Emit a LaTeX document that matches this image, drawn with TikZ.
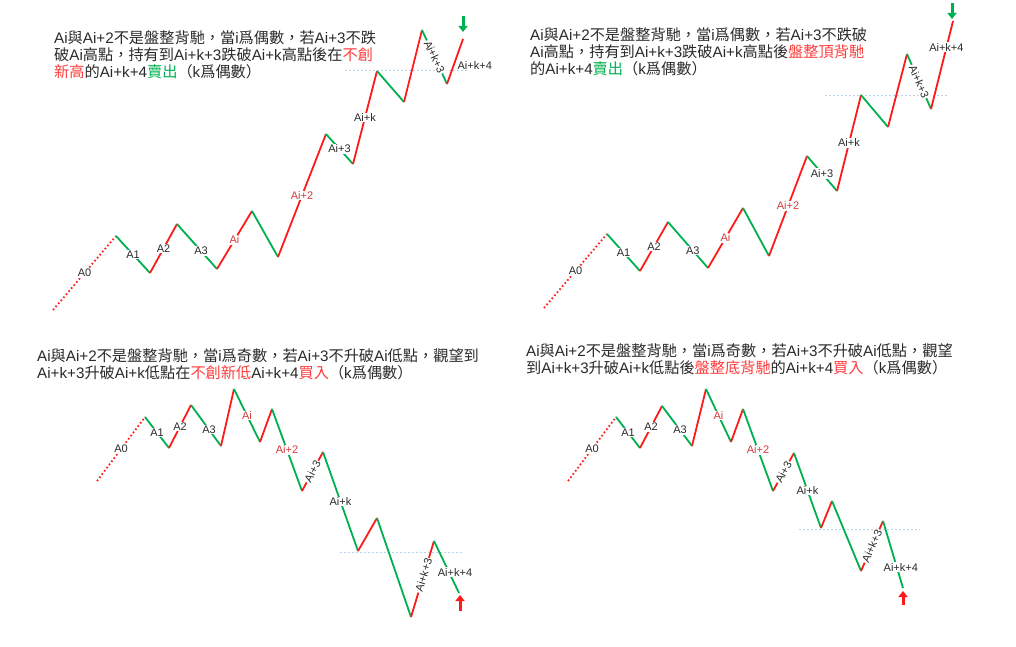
\documentclass[tikz,border=0pt]{standalone}
\usepackage{fontspec}
\setmainfont{Liberation Sans}
\newfontfamily\cjk{Noto Sans CJK TC}
\usepackage{xcolor}
\usepackage{tikz}
\usetikzlibrary{arrows.meta}

\definecolor{legred}{HTML}{FF1A1A}
\definecolor{leggreen}{HTML}{00B050}
\definecolor{lblred}{HTML}{D43A3A}
\definecolor{txtred}{HTML}{FF3B3B}
\definecolor{txtgreen}{HTML}{00B050}
\definecolor{txtgray}{HTML}{2A2A2A}
\definecolor{guideblue}{HTML}{B9D2EE}

\newcommand{\zh}[1]{{\cjk #1}}

\tikzset{
  upleg/.style={legred, line width=1.8pt},
  downleg/.style={leggreen, line width=1.8pt},
  leadin/.style={legred, line width=1.8pt, dash pattern=on 1.6pt off 2.4pt},
  lbl/.style={fill=white, inner sep=1pt, text=txtgray, font=\fontsize{11}{12}\selectfont},
  redlbl/.style={lbl, text=lblred},
  guide/.style={guideblue, line width=0.8pt, dash pattern=on 2pt off 2pt},
  note/.style={anchor=west, inner sep=0pt, align=left, text=txtgray, font=\fontsize{15.2}{16.8}\selectfont},
  sellarrow/.style={leggreen, line width=3pt, -{Triangle[width=9pt,length=6pt]}},
  buyarrow/.style={legred, line width=3pt, -{Triangle[width=9pt,length=6pt]}}
}

\begin{document}
\begin{tikzpicture}[x=1pt, y=-1pt]
        \useasboundingbox (0,0) rectangle (1016,647);

        % ---------- Panel 1: top left ----------
        \node[note] (p1txt) at (54,55) {Ai\zh{與}Ai+2\zh{不是盤整背馳，當}i\zh{爲偶數，若}Ai+3\zh{不跌}\\
          \zh{破}Ai\zh{高點，持有到}Ai+k+3\zh{跌破}Ai+k\zh{高點後在}\textcolor{txtred}{\zh{不創}}\\
          \textcolor{txtred}{\zh{新高}}\zh{的}Ai+k+4\textcolor{txtgreen}{\zh{賣出}}\zh{（}k\zh{爲偶數）}};

        % Turning points
        \coordinate (p1v0) at (53,310);  \coordinate (p1v1) at (116,236); \coordinate (p1v2) at (150,273);
        \coordinate (p1v3) at (177,224); \coordinate (p1v4) at (217,269); \coordinate (p1v5) at (252,211);
        \coordinate (p1v6) at (278,257); \coordinate (p1v7) at (326,134); \coordinate (p1v8) at (353,164);
        \coordinate (p1v9) at (377,71);  \coordinate (p1v10) at (404,102); \coordinate (p1v11) at (422,30);
        \coordinate (p1v12) at (447,84); \coordinate (p1v13) at (463,39);
        \coordinate (p1g0) at (345,70);  \coordinate (p1g1) at (467,70);
        \coordinate (p1s0) at (463,16);  \coordinate (p1s1) at (463,32);

        % High of Ai+k
        \draw[guide] (p1g0) -- (p1g1);

        % Legs
        \draw[leadin] (p1v0) -- node[lbl] {A0} (p1v1);
        \draw[downleg] (p1v1) -- node[lbl] {A1} (p1v2);
        \draw[upleg] (p1v2) -- node[lbl] {A2} (p1v3);
        \draw[downleg] (p1v3) -- node[lbl, pos=0.6] {A3} (p1v4);
        \draw[upleg] (p1v4) -- node[redlbl] {Ai} (p1v5);
        \draw[downleg] (p1v5) -- (p1v6);
        \draw[upleg] (p1v6) -- node[redlbl] {Ai+2} (p1v7);
        \draw[downleg] (p1v7) -- node[lbl] {Ai+3} (p1v8);
        \draw[upleg] (p1v8) -- node[lbl] {Ai+k} (p1v9);
        \draw[downleg] (p1v9) -- (p1v10);
        \draw[upleg] (p1v10) -- (p1v11);
        \draw[downleg] (p1v11) -- node[lbl, sloped] {Ai+k+3} (p1v12);
        \draw[upleg] (p1v12) -- node[lbl, right, pos=0.42, xshift=2pt] {Ai+k+4} (p1v13);

        % Sell signal
        \draw[sellarrow] (p1s0) -- (p1s1);

        % ---------- Panel 2: top right ----------
        \node[note] (p2txt) at (530,52) {Ai\zh{與}Ai+2\zh{不是盤整背馳，當}i\zh{爲偶數，若}Ai+3\zh{不跌破}\\
          Ai\zh{高點，持有到}Ai+k+3\zh{跌破}Ai+k\zh{高點後}\textcolor{txtred}{\zh{盤整頂背馳}}\\
          \zh{的}Ai+k+4\textcolor{txtgreen}{\zh{賣出}}\zh{（}k\zh{爲偶數）}};

        % Turning points
        \coordinate (p2v0) at (544,308); \coordinate (p2v1) at (607,234); \coordinate (p2v2) at (640,271);
        \coordinate (p2v3) at (668,222); \coordinate (p2v4) at (708,268); \coordinate (p2v5) at (743,208);
        \coordinate (p2v6) at (769,256); \coordinate (p2v7) at (807,156); \coordinate (p2v8) at (837,191);
        \coordinate (p2v9) at (861,95);  \coordinate (p2v10) at (888,127); \coordinate (p2v11) at (907,54);
        \coordinate (p2v12) at (931,109); \coordinate (p2v13) at (953,21);
        \coordinate (p2g0) at (825,95);  \coordinate (p2g1) at (947,95);
        \coordinate (p2s0) at (952,3);   \coordinate (p2s1) at (952,19);

        % High of Ai+k
        \draw[guide] (p2g0) -- (p2g1);

        % Legs
        \draw[leadin] (p2v0) -- node[lbl] {A0} (p2v1);
        \draw[downleg] (p2v1) -- node[lbl] {A1} (p2v2);
        \draw[upleg] (p2v2) -- node[lbl] {A2} (p2v3);
        \draw[downleg] (p2v3) -- node[lbl, pos=0.62] {A3} (p2v4);
        \draw[upleg] (p2v4) -- node[redlbl] {Ai} (p2v5);
        \draw[downleg] (p2v5) -- (p2v6);
        \draw[upleg] (p2v6) -- node[redlbl] {Ai+2} (p2v7);
        \draw[downleg] (p2v7) -- node[lbl] {Ai+3} (p2v8);
        \draw[upleg] (p2v8) -- node[lbl] {Ai+k} (p2v9);
        \draw[downleg] (p2v9) -- (p2v10);
        \draw[upleg] (p2v10) -- (p2v11);
        \draw[downleg] (p2v11) -- node[lbl, sloped] {Ai+k+3} (p2v12);
        \draw[upleg] (p2v12) -- node[lbl, pos=0.7] {Ai+k+4} (p2v13);

        % Sell signal
        \draw[sellarrow] (p2s0) -- (p2s1);

        % ---------- Panel 3: bottom left ----------
        \node[note] (p3txt) at (37,364) {Ai\zh{與}Ai+2\zh{不是盤整背馳，當}i\zh{爲奇數，若}Ai+3\zh{不升破}Ai\zh{低點，觀望到}\\
          Ai+k+3\zh{升破}Ai+k\zh{低點在}\textcolor{txtred}{\zh{不創新低}}Ai+k+4\textcolor{txtred}{\zh{買入}}\zh{（}k\zh{爲偶數）}};

        % Turning points
        \coordinate (p3v0) at (97,481);  \coordinate (p3v1) at (145,417); \coordinate (p3v2) at (169,448);
        \coordinate (p3v3) at (191,405); \coordinate (p3v4) at (221,446); \coordinate (p3v5) at (234,389);
        \coordinate (p3v6) at (260,442); \coordinate (p3v7) at (272,409); \coordinate (p3v8) at (302,491);
        \coordinate (p3v9) at (323,452); \coordinate (p3v10) at (358,551); \coordinate (p3v11) at (377,518);
        \coordinate (p3v12) at (411,617); \coordinate (p3v13) at (434,541); \coordinate (p3v14) at (459,593);
        \coordinate (p3g0) at (340,552); \coordinate (p3g1) at (462,552);
        \coordinate (p3b0) at (460,611); \coordinate (p3b1) at (460,595);

        % Low of Ai+k
        \draw[guide] (p3g0) -- (p3g1);

        % Legs
        \draw[leadin] (p3v0) -- node[lbl] {A0} (p3v1);
        \draw[downleg] (p3v1) -- node[lbl] {A1} (p3v2);
        \draw[upleg] (p3v2) -- node[lbl] {A2} (p3v3);
        \draw[downleg] (p3v3) -- node[lbl, pos=0.6] {A3} (p3v4);
        \draw[upleg] (p3v4) -- (p3v5);
        \draw[downleg] (p3v5) -- node[redlbl] {Ai} (p3v6);
        \draw[upleg] (p3v6) -- (p3v7);
        \draw[downleg] (p3v7) -- node[redlbl] {Ai+2} (p3v8);
        \draw[upleg] (p3v8) -- node[lbl, sloped] {Ai+3} (p3v9);
        \draw[downleg] (p3v9) -- node[lbl] {Ai+k} (p3v10);
        \draw[upleg] (p3v10) -- (p3v11);
        \draw[downleg] (p3v11) -- (p3v12);
        \draw[upleg] (p3v12) -- node[lbl, sloped, pos=0.55] {Ai+k+3} (p3v13);
        \draw[downleg] (p3v13) -- node[lbl, pos=0.6, xshift=6pt] {Ai+k+4} (p3v14);

        % Buy signal
        \draw[buyarrow] (p3b0) -- (p3b1);

        % ---------- Panel 4: bottom right ----------
        \node[note] (p4txt) at (526,359) {Ai\zh{與}Ai+2\zh{不是盤整背馳，當}i\zh{爲奇數，若}Ai+3\zh{不升破}Ai\zh{低點，觀望}\\
          \zh{到}Ai+k+3\zh{升破}Ai+k\zh{低點後}\textcolor{txtred}{\zh{盤整底背馳}}\zh{的}Ai+k+4\textcolor{txtred}{\zh{買入}}\zh{（}k\zh{爲偶數）}};

        % Turning points
        \coordinate (p4v0) at (568,481); \coordinate (p4v1) at (616,417); \coordinate (p4v2) at (640,448);
        \coordinate (p4v3) at (662,406); \coordinate (p4v4) at (692,446); \coordinate (p4v5) at (706,389);
        \coordinate (p4v6) at (731,442); \coordinate (p4v7) at (743,409); \coordinate (p4v8) at (773,491);
        \coordinate (p4v9) at (794,453); \coordinate (p4v10) at (821,528); \coordinate (p4v11) at (832,501);
        \coordinate (p4v12) at (861,571); \coordinate (p4v13) at (883,521); \coordinate (p4v14) at (903,588);
        \coordinate (p4g0) at (799,529); \coordinate (p4g1) at (920,529);
        \coordinate (p4b0) at (903,605); \coordinate (p4b1) at (903,591);

        % Low of Ai+k
        \draw[guide] (p4g0) -- (p4g1);

        % Legs
        \draw[leadin] (p4v0) -- node[lbl] {A0} (p4v1);
        \draw[downleg] (p4v1) -- node[lbl] {A1} (p4v2);
        \draw[upleg] (p4v2) -- node[lbl] {A2} (p4v3);
        \draw[downleg] (p4v3) -- node[lbl, pos=0.6] {A3} (p4v4);
        \draw[upleg] (p4v4) -- (p4v5);
        \draw[downleg] (p4v5) -- node[redlbl] {Ai} (p4v6);
        \draw[upleg] (p4v6) -- (p4v7);
        \draw[downleg] (p4v7) -- node[redlbl] {Ai+2} (p4v8);
        \draw[upleg] (p4v8) -- node[lbl, sloped] {Ai+3} (p4v9);
        \draw[downleg] (p4v9) -- node[lbl] {Ai+k} (p4v10);
        \draw[upleg] (p4v10) -- (p4v11);
        \draw[downleg] (p4v11) -- (p4v12);
        \draw[upleg] (p4v12) -- node[lbl, sloped] {Ai+k+3} (p4v13);
        \draw[downleg] (p4v13) -- node[lbl, pos=0.69, xshift=4pt] {Ai+k+4} (p4v14);

        % Buy signal
        \draw[buyarrow] (p4b0) -- (p4b1);
\end{tikzpicture}
\end{document}
